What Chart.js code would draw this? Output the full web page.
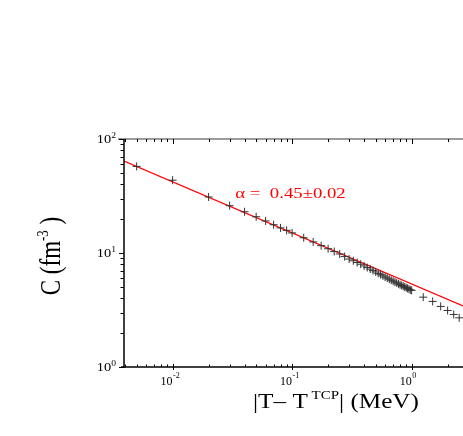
<!DOCTYPE html>
<html>
<head>
<meta charset="utf-8">
<script src="https://cdn.jsdelivr.net/npm/chart.js@4.4.1/dist/chart.umd.min.js"></script>
<style>
  html, body { margin: 0; padding: 0; background: #fff; }
  #wrap { width: 463px; height: 436px; }
</style>
</head>
<body>
<div id="wrap"><canvas id="displayGraph"></canvas></div>
<script>
// données (log-log)
const tempDiff = [0.005, 0.01, 0.02, 0.03, 0.04, 0.05, 0.06, 0.07, 0.08, 0.09, 0.1,
  0.125, 0.15, 0.175, 0.2, 0.225, 0.25, 0.275, 0.3,
  0.325, 0.35, 0.375, 0.4, 0.425, 0.45, 0.475, 0.5, 0.525, 0.55, 0.575, 0.6, 0.625, 0.65,
  0.675, 0.7, 0.725, 0.75, 0.775, 0.8, 0.825, 0.85, 0.875, 0.9, 0.925, 0.95, 0.975, 1.0,
  1.25, 1.5, 1.75, 2.0, 2.25, 2.5]
const correlation = [57.5, 43.5, 31, 26, 23, 20.8, 19.1, 17.7, 16.6, 15.8, 15.0,
  13.6, 12.5, 11.6, 10.9, 10.3, 9.8, 9.3, 8.85,
  8.55, 8.25, 7.97, 7.70, 7.45, 7.22, 7.01, 6.82, 6.63, 6.46, 6.30, 6.15, 6.02, 5.89,
  5.77, 5.66, 5.56, 5.46, 5.36, 5.27, 5.19, 5.11, 5.03, 4.96, 4.89, 4.82, 4.75, 4.70,
  4.10, 3.76, 3.40, 3.13, 2.89, 2.70]

// droite d'ajustement (extrémités)
const fitX = [0.00392, 2.69]
const fitY = [64.0, 3.43]
const fitLabel = 'α =  0.45±0.02'
const fitLabelAt = [0.0335, 30.5]

const xRange = [0.00392, 2.69]
const yRange = [1, 100]
const xTickValues = [0.01, 0.1, 1]
const xTickExps = ['-2', '-1', '0']
const yTickValues = [1, 10, 100]
const yTickExps = ['0', '1', '2']

const SERIF = "'Liberation Serif', 'Times New Roman', serif"

// texte avec exposants : parts = [texte, taille, décalage vertical]
function drawRich(ctx, parts, x, y, align, sx) {
  let total = 0
  parts.forEach(p => { ctx.font = `${p[1]}px ${SERIF}`; total += ctx.measureText(p[0]).width * sx })
  let cx = align === 'center' ? x - total / 2 : align === 'right' ? x - total : x
  ctx.textAlign = 'left'
  ctx.textBaseline = 'alphabetic'
  parts.forEach(p => {
    ctx.font = `${p[1]}px ${SERIF}`
    const w = ctx.measureText(p[0]).width * sx
    ctx.save()
    ctx.translate(cx, y - p[2])
    ctx.scale(sx, 1)
    ctx.fillText(p[0], 0, 0)
    ctx.restore()
    cx += w
  })
}

function logTicks(min, max) {
  const out = []
  for (let n = -4; n <= 3; n++) {
    for (let k = 1; k <= 9; k++) {
      const v = k * Math.pow(10, n)
      if (v >= min * 0.999 && v <= max * 1.001) out.push({ v, major: k === 1 })
    }
  }
  return out
}

const frame = {
  id: 'frame',
  afterDraw(chart) {
    const { ctx, chartArea: a, scales: { x, y } } = chart
    ctx.save()

    // axes
    ctx.lineWidth = 1.5
    ctx.strokeStyle = '#7a7a7a'
    ctx.beginPath(); ctx.moveTo(a.left - 6, a.top); ctx.lineTo(a.right, a.top); ctx.stroke()
    ctx.strokeStyle = '#000'
    ctx.beginPath(); ctx.moveTo(a.left, a.top); ctx.lineTo(a.left, a.bottom + 1); ctx.stroke()
    ctx.beginPath(); ctx.moveTo(a.left - 3, a.bottom); ctx.lineTo(a.right, a.bottom); ctx.stroke()

    // graduations
    ctx.lineWidth = 1
    logTicks(xRange[0], xRange[1]).forEach(t => {
      const px = Math.round(x.getPixelForValue(t.v)) + 0.5
      ctx.strokeStyle = '#000'
      ctx.beginPath()
      ctx.moveTo(px, a.bottom + (t.major ? 3 : 0))
      ctx.lineTo(px, a.bottom - (t.major ? 3 : 2.5))
      ctx.stroke()
      ctx.beginPath()
      ctx.moveTo(px, a.top)
      ctx.lineTo(px, a.top + (t.major ? 5 : 3))
      ctx.stroke()
    })
    logTicks(yRange[0], yRange[1]).forEach(t => {
      const py = Math.round(y.getPixelForValue(t.v)) + 0.5
      ctx.beginPath()
      ctx.moveTo(a.left, py)
      ctx.lineTo(a.left - (t.major ? 5 : 3.5), py)
      ctx.stroke()
    })

    // étiquettes des graduations
    ctx.fillStyle = '#000'
    xTickValues.forEach((v, i) => {
      const px = x.getPixelForValue(v)
      drawRich(ctx, [['10', 12, 0]], px, a.bottom + 18, 'right', 1)
      drawRich(ctx, [[xTickExps[i], 8, 7]], px + 0.5, a.bottom + 18, 'left', 1)
    })
    yTickValues.forEach((v, i) => {
      const py = y.getPixelForValue(v)
      drawRich(ctx, [['10', 12, 0], [yTickExps[i], 8, 5]], a.left - 8, py + 4, 'right', 1.2)
    })

    // titres des axes
    drawRich(ctx, [['|T– T', 21, 0], [' TCP', 12.5, 9], ['| (MeV)', 21, 0]], 336, 408, 'center', 1.2)
    ctx.save()
    ctx.translate(60, 256)
    ctx.rotate(-Math.PI / 2)
    ctx.scale(1, 1.25)
    drawRich(ctx, [['C (fm', 23, 0], ['-3', 13, 10], [' )', 23, 0]], 0, 0, 'center', 1)
    ctx.restore()

    // annotation de l'ajustement
    ctx.fillStyle = '#ff0000'
    drawRich(ctx, [[fitLabel, 15, 0]], x.getPixelForValue(fitLabelAt[0]), y.getPixelForValue(fitLabelAt[1]), 'left', 1.25)

    ctx.restore()
  }
}

document.addEventListener('DOMContentLoaded', function () {
  const config = {
    type: 'scatter',
    data: {
      datasets: [{
        label: 'fit',
        data: fitX.map((v, i) => ({ x: v, y: fitY[i] })),
        showLine: true,
        borderColor: '#ff0000',
        borderWidth: 1.2,
        pointRadius: 0,
        order: 2
      }, {
        label: 'C',
        data: tempDiff.map((v, i) => ({ x: v, y: correlation[i] })),
        pointStyle: 'cross',
        pointRadius: 4,
        borderColor: '#333',
        borderWidth: 1,
        order: 1
      }]
    },
    options: {
      animation: false,
      responsive: true,
      maintainAspectRatio: false,
      layout: { autoPadding: false, padding: { top: 139, left: 124, right: 0, bottom: 69 } },
      plugins: { legend: { display: false }, tooltip: { enabled: false } },
      scales: {
        x: { type: 'logarithmic', display: false, min: xRange[0], max: xRange[1] },
        y: { type: 'logarithmic', display: false, min: yRange[0], max: yRange[1] }
      }
    },
    plugins: [frame]
  }
  new Chart(document.getElementById('displayGraph'), config)
})
</script>
</body>
</html>
